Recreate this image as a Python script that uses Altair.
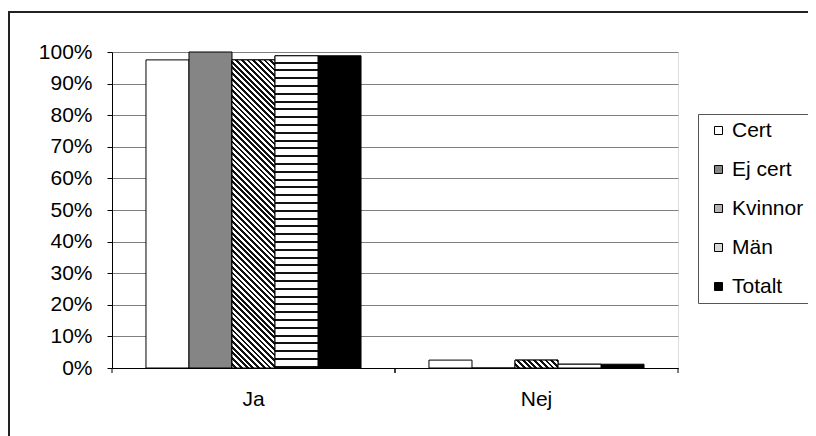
import altair as alt
import pandas as pd

categories = ["Ja", "Nej"]
series = ["Cert", "Ej cert", "Kvinnor", "Män", "Totalt"]
ja_values = [0.975, 1.0, 0.975, 0.988, 0.988]
nej_values = [0.025, 0.0, 0.025, 0.012, 0.012]
legend_colors = ["#ffffff", "#858585", "#b4b4b4", "#d8d8d8", "#000000"]
y_ticks = [0, 0.1, 0.2, 0.3, 0.4, 0.5, 0.6, 0.7, 0.8, 0.9, 1.0]

rows = []
for cat, vals in zip(categories, [ja_values, nej_values]):
    for s, v in zip(series, vals):
        rows.append({"cat": cat, "series": s, "value": v})
df = pd.DataFrame(rows)

FONT = "Liberation Sans"
FS = 21
PLOT_W, PLOT_H = 566, 316
PAD_L, PAD_T = 104, 44
TOTAL_W, TOTAL_H = 800, 428
OUTER_PAD = 0.79
BAR_W = (PLOT_W / len(categories)) / (len(series) + 2 * OUTER_PAD)

x_axis = alt.Axis(title=None, labelAngle=0, ticks=False, labelPadding=20,
                  domainColor="black", labelFontSize=FS, labelFont=FONT,
                  labelColor="black")
x_scale = alt.Scale(domain=categories, paddingInner=0, paddingOuter=0)
x_enc = alt.X("cat:N", sort=categories, scale=x_scale, axis=x_axis)
xo_enc = alt.XOffset("series:N", sort=series,
                     scale=alt.Scale(domain=series, paddingInner=0, paddingOuter=OUTER_PAD))
y_enc = alt.Y("value:Q", scale=alt.Scale(domain=[0, 1], nice=False),
              axis=alt.Axis(title=None, format="%", values=y_ticks, tickSize=5,
                            labelPadding=15, grid=True, gridColor="#808080",
                            domainColor="black", tickColor="black", labelOverlap=False,
                            labelFontSize=FS, labelFont=FONT, labelColor="black"))

base = alt.Chart(df).mark_bar(stroke="black", strokeWidth=1).encode(
    x=x_enc, xOffset=xo_enc, y=y_enc,
    color=alt.Color("series:N", sort=series,
                    scale=alt.Scale(domain=series, range=legend_colors),
                    legend=alt.Legend(title=None, orient="none", legendX=596, legendY=68,
                                      symbolType="square", symbolSize=64,
                                      symbolStrokeColor="black", symbolStrokeWidth=1,
                                      labelFontSize=FS, labelFont=FONT, labelColor="black",
                                      labelOffset=3, rowPadding=17, padding=0)),
)


def hstripe_gradient(h, period=7.8, line=2.0, dark="#111111"):
    stops = []
    pos = 0.0
    while pos < h:
        a = min(pos / h, 1)
        b = min((pos + period - line) / h, 1)
        c = min((pos + period) / h, 1)
        stops += [("white", a), ("white", b), (dark, b), (dark, c)]
        pos += period
    return alt.LinearGradient(gradient="linear", x1=0, y1=0, x2=0, y2=1,
                              stops=[alt.GradientStop(color=col, offset=o) for col, o in stops])


def dstripe_gradient(h, w, period=5.7, dark="#111111"):
    L = w + h
    r = h / w
    alpha = (1 + r) / (1 + r * r)
    stops = []
    pos = 0.0
    while pos < L:
        a = min(pos / L, 1)
        b = min((pos + period / 2) / L, 1)
        c = min((pos + period) / L, 1)
        stops += [("white", a), ("white", b), (dark, b), (dark, c)]
        pos += period
    return alt.LinearGradient(gradient="linear", x1=0, y1=1, x2=alpha, y2=1 - alpha * r,
                              stops=[alt.GradientStop(color=col, offset=o) for col, o in stops])


layers = [base]
for cat, vals in zip(categories, [ja_values, nej_values]):
    for s, v in zip(series, vals):
        if v <= 0:
            continue
        h = v * PLOT_H
        if s == "Kvinnor":
            fill = dstripe_gradient(h, BAR_W)
        elif s == "Män":
            fill = hstripe_gradient(h)
        else:
            continue
        layers.append(
            alt.Chart(df).transform_filter(
                (alt.datum.cat == cat) & (alt.datum.series == s)
            ).mark_bar(fill=fill, stroke="black", strokeWidth=1).encode(
                x=x_enc, xOffset=xo_enc, y=y_enc)
        )

tick_df = pd.DataFrame({"cat": categories})
for bp in (0, 1):
    layers.append(
        alt.Chart(tick_df).mark_rule(color="black", strokeWidth=1).encode(
            x=alt.X("cat:N", sort=categories, bandPosition=bp, scale=x_scale, axis=x_axis),
            y=alt.value(PLOT_H), y2=alt.value(PLOT_H + 5))
    )

one = pd.DataFrame({"a": [0]})
# outer chart frame (right/bottom edges fall outside the picture, as in the reference)
layers.append(alt.Chart(one).mark_rect(fill="transparent", stroke="#222222", strokeWidth=2).encode(
    x=alt.value(-PAD_L + 1), x2=alt.value(TOTAL_W - PAD_L + 30),
    y=alt.value(-40), y2=alt.value(TOTAL_H - PAD_T + 30)))
# legend frame
layers.append(alt.Chart(one).mark_rect(fill="transparent", stroke="#555555", strokeWidth=1).encode(
    x=alt.value(586.5), x2=alt.value(TOTAL_W - PAD_L + 30),
    y=alt.value(62.5), y2=alt.value(251.5)))

chart = alt.layer(*layers).properties(
    width=PLOT_W, height=PLOT_H,
    padding={"left": PAD_L, "top": PAD_T,
             "right": TOTAL_W - PAD_L - PLOT_W, "bottom": TOTAL_H - PAD_T - PLOT_H},
    autosize=alt.AutoSizeParams(type="none"),
).configure_view(stroke="#808080", strokeWidth=1).configure(background="white")

chart.save("out.html", embed_options={"renderer": "svg", "actions": False})
